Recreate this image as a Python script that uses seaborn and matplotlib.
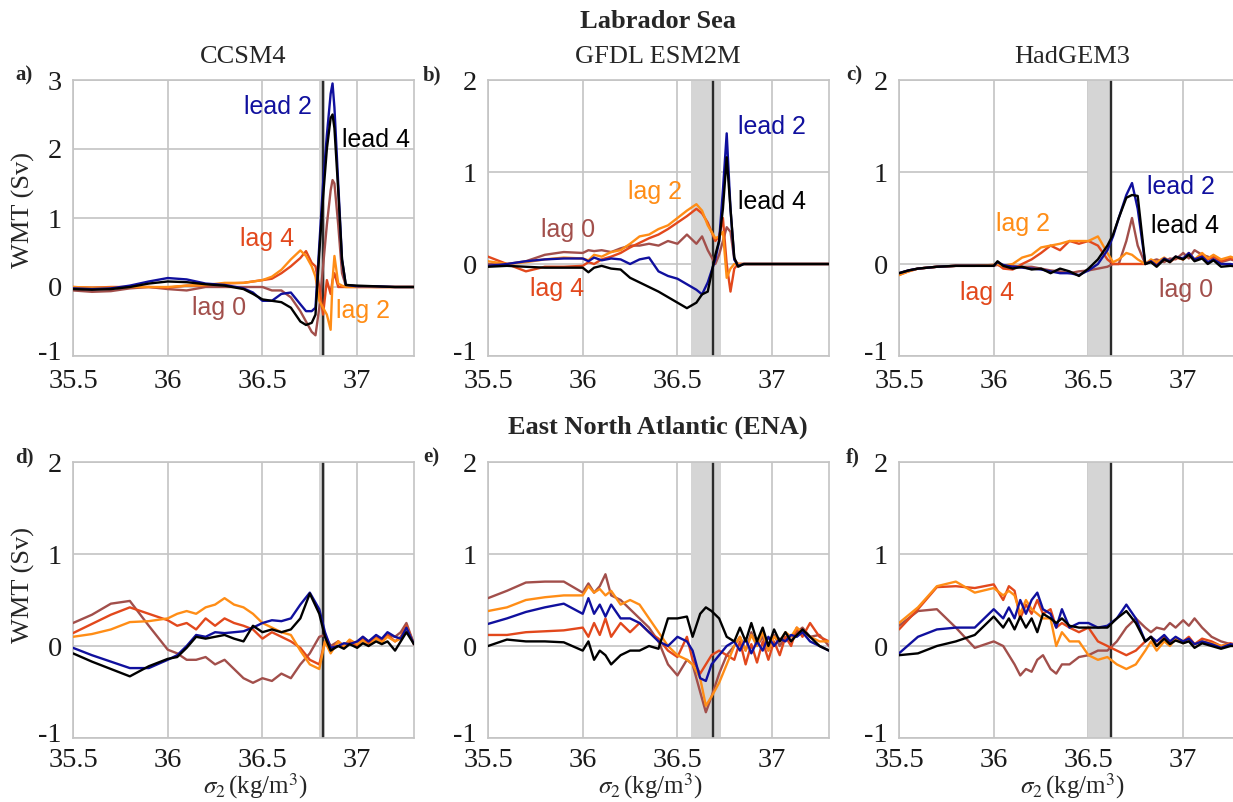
import pandas as pd
import seaborn as sns
import matplotlib
matplotlib.use('Agg')
from matplotlib import pyplot as plt
from matplotlib.transforms import ScaledTranslation

# ---------------- DATOS ----------------
# a) Labrador Sea - CCSM4
x_a = [35.5, 35.6, 35.7, 35.8, 35.9, 36.0, 36.1, 36.2, 36.3, 36.4,
       36.45, 36.5, 36.55, 36.6, 36.65, 36.7, 36.73, 36.76, 36.78, 36.8,
       36.82, 36.84, 36.86, 36.87, 36.88, 36.9, 36.92, 36.94, 37.0, 37.1,
       37.2, 37.3]
a_lead2 = [-0.02, -0.03, -0.02, 0.02, 0.08, 0.13, 0.11, 0.05, 0.03, -0.02,
           -0.08, -0.2, -0.2, -0.1, -0.08, -0.25, -0.35, -0.35, -0.3, 0.6,
           1.5, 2.2, 2.8, 2.95, 2.6, 1.5, 0.4, 0.03, 0.01, 0.01,
           0.0, 0.0]
a_lead4 = [-0.03, -0.04, -0.03, 0.0, 0.05, 0.08, 0.07, 0.04, 0.02, -0.03,
           -0.1, -0.18, -0.2, -0.22, -0.3, -0.5, -0.55, -0.52, -0.4, 0.5,
           1.3, 2.0, 2.45, 2.5, 2.3, 1.4, 0.4, 0.03, 0.02, 0.01,
           0.0, 0.0]
a_lag0 = [-0.05, -0.07, -0.06, -0.02, 0.0, -0.03, -0.05, 0.0, 0.0, 0.0,
          0.0, 0.0, -0.05, -0.05, -0.15, -0.35, -0.5, -0.65, -0.7, -0.3,
          0.3, 0.9, 1.4, 1.55, 1.5, 0.9, 0.2, 0.02, 0.01, 0.0,
          0.0, 0.0]
a_lag2 = [0.0, -0.01, -0.01, 0.0, 0.0, 0.0, 0.02, 0.03, 0.06, 0.06,
          0.08, 0.1, 0.15, 0.25, 0.4, 0.53, 0.45, 0.3, 0.15, -0.2,
          -0.3, -0.4, -0.62, 0.1, 0.45, 0.05, 0.02, 0.0, 0.0, 0.0,
          0.0, 0.0]
a_lag4 = [0.0, -0.01, 0.0, 0.0, 0.0, -0.01, 0.02, 0.02, 0.05, 0.06,
          0.08, 0.1, 0.12, 0.2, 0.3, 0.42, 0.52, 0.35, 0.3, 0.0,
          -0.4, 0.1, -0.1, 0.1, 0.2, 0.0, 0.0, 0.0, 0.0, 0.0,
          0.0, 0.0]

# b) Labrador Sea - GFDL ESM2M
x_b = [35.5, 35.6, 35.7, 35.8, 35.9, 36.0, 36.03, 36.06, 36.1, 36.15,
       36.2, 36.25, 36.3, 36.35, 36.4, 36.45, 36.5, 36.55, 36.6, 36.63,
       36.66, 36.7, 36.72, 36.74, 36.76, 36.78, 36.8, 36.82, 36.85, 36.9,
       37.0, 37.3]
b_lead2 = [-0.02, 0.0, 0.03, 0.05, 0.06, 0.06, 0.03, 0.07, 0.04, 0.06,
           0.05, 0.0, 0.05, 0.07, -0.08, -0.13, -0.16, -0.22, -0.28, -0.33,
           -0.2, 0.05, 0.25, 0.8, 1.42, 0.6, 0.05, -0.02, 0.0, 0.0,
           0.0, 0.0]
b_lead4 = [-0.03, -0.02, -0.03, -0.04, -0.04, -0.04, -0.09, -0.04, -0.02, -0.05,
           -0.06, -0.15, -0.2, -0.25, -0.3, -0.36, -0.42, -0.48, -0.42, -0.33,
           -0.3, 0.1, 0.25, 0.6, 1.16, 0.6, 0.07, -0.03, 0.0, 0.0,
           0.0, 0.0]
b_lag0 = [0.0, 0.0, 0.03, 0.1, 0.13, 0.12, 0.15, 0.14, 0.15, 0.13,
          0.17, 0.2, 0.2, 0.22, 0.2, 0.25, 0.22, 0.32, 0.22, 0.3,
          0.15, 0.0, 0.1, 0.25, 0.4, 0.35, 0.05, 0.0, 0.0, 0.0,
          0.0, 0.0]
b_lag2 = [0.03, 0.0, 0.02, 0.05, 0.07, 0.06, 0.04, 0.1, 0.08, 0.13,
          0.15, 0.22, 0.3, 0.32, 0.38, 0.42, 0.5, 0.58, 0.65, 0.58,
          0.42, 0.28, 0.3, 0.35, -0.15, -0.05, 0.0, 0.0, 0.0, 0.0,
          0.0, 0.0]
b_lag4 = [0.08, 0.0, -0.08, -0.03, -0.03, -0.02, 0.02, 0.0, 0.05, 0.08,
          0.12, 0.18, 0.23, 0.28, 0.32, 0.38, 0.45, 0.52, 0.6, 0.55,
          0.45, 0.25, 0.3, 0.5, 0.0, -0.3, -0.05, 0.0, 0.0, 0.0,
          0.0, 0.0]

# c) Labrador Sea - HadGEM3
x_c = [35.5, 35.55, 35.6, 35.7, 35.8, 35.9, 36.0, 36.02, 36.05, 36.1,
       36.15, 36.2, 36.25, 36.3, 36.35, 36.4, 36.45, 36.5, 36.55, 36.6,
       36.63, 36.66, 36.7, 36.73, 36.76, 36.8, 36.83, 36.86, 36.9, 36.93,
       36.96, 37.0, 37.03, 37.06, 37.1, 37.13, 37.16, 37.2, 37.25, 37.3]
c_lead2 = [-0.1, -0.07, -0.05, -0.03, -0.02, -0.02, -0.02, 0.02, -0.01, -0.03,
           -0.04, -0.05, -0.06, -0.08, -0.1, -0.1, -0.12, -0.07, 0.0, 0.15,
           0.3, 0.5, 0.75, 0.88, 0.6, 0.0, 0.03, -0.02, 0.06, 0.03,
           0.08, 0.06, 0.12, 0.05, 0.08, 0.02, 0.05, 0.0, 0.0, -0.02]
c_lead4 = [-0.1, -0.07, -0.05, -0.03, -0.02, -0.02, -0.02, 0.03, -0.02, -0.05,
           -0.03, -0.06, -0.05, -0.1, -0.05, -0.08, -0.13, -0.05, 0.05, 0.2,
           0.32, 0.5, 0.72, 0.75, 0.74, 0.0, 0.02, -0.03, 0.05, 0.02,
           0.08, 0.05, 0.1, 0.03, 0.06, 0.0, 0.04, -0.03, -0.02, -0.03]
c_lag0 = [-0.1, -0.07, -0.05, -0.03, -0.02, -0.02, -0.02, -0.01, -0.03, -0.02,
          -0.03, -0.03, -0.05, -0.07, -0.08, -0.1, -0.08, -0.07, -0.05, -0.03,
          0.0, 0.0, 0.25, 0.5, 0.2, 0.0, 0.03, 0.05, 0.02, 0.06,
          0.05, 0.12, 0.06, 0.15, 0.1, 0.08, 0.05, 0.02, 0.05, 0.02]
c_lag2 = [-0.12, -0.08, -0.05, -0.03, -0.02, -0.02, -0.01, 0.0, -0.02, 0.0,
          0.07, 0.1, 0.18, 0.2, 0.22, 0.25, 0.25, 0.25, 0.3, 0.12,
          0.02, 0.05, 0.12, 0.1, 0.05, 0.0, 0.05, 0.02, 0.07, 0.03,
          0.08, 0.05, 0.1, 0.05, 0.12, 0.06, 0.1, 0.05, 0.08, 0.04]
c_lag4 = [-0.12, -0.08, -0.05, -0.03, -0.02, -0.02, -0.01, 0.0, -0.05, -0.06,
          0.0, 0.05, 0.12, 0.2, 0.15, 0.25, 0.22, 0.25, 0.2, 0.05,
          0.0, 0.0, 0.0, 0.0, 0.0, 0.0, 0.04, 0.0, 0.06, 0.02,
          0.07, 0.05, 0.12, 0.04, 0.1, 0.05, 0.08, 0.03, 0.06, 0.02]

# d) ENA - CCSM4
x_d = [35.5, 35.6, 35.7, 35.8, 35.9, 36.0, 36.05, 36.1, 36.15, 36.2,
       36.25, 36.3, 36.35, 36.4, 36.45, 36.5, 36.55, 36.6, 36.65, 36.7,
       36.75, 36.8, 36.83, 36.86, 36.9, 36.93, 36.96, 37.0, 37.03, 37.06,
       37.1, 37.13, 37.16, 37.2, 37.23, 37.26, 37.3]
d_lead2 = [-0.02, -0.1, -0.17, -0.24, -0.24, -0.15, -0.1, 0.0, 0.12, 0.1,
           0.15, 0.14, 0.15, 0.16, 0.2, 0.25, 0.28, 0.27, 0.3, 0.45,
           0.58, 0.4, 0.15, -0.02, 0.0, 0.03, 0.02, 0.05, 0.1, 0.05,
           0.12, 0.08, 0.15, 0.1, 0.08, 0.2, 0.02]
d_lead4 = [-0.08, -0.17, -0.25, -0.33, -0.22, -0.14, -0.12, -0.02, 0.1, 0.08,
           0.1, 0.12, 0.08, 0.05, 0.22, 0.15, 0.18, 0.15, 0.18, 0.3,
           0.57, 0.35, 0.1, -0.05, 0.0, -0.03, 0.02, -0.02, 0.03, 0.0,
           0.05, 0.02, 0.05, -0.05, 0.05, 0.15, 0.02]
d_lag0 = [0.25, 0.34, 0.46, 0.49, 0.22, -0.04, -0.08, -0.15, -0.15, -0.12,
          -0.2, -0.15, -0.25, -0.35, -0.4, -0.35, -0.38, -0.3, -0.35, -0.2,
          -0.08, 0.1, 0.12, 0.0, 0.05, 0.0, 0.06, 0.02, 0.1, 0.05,
          0.1, 0.05, 0.12, 0.1, 0.15, 0.25, 0.02]
d_lag2 = [0.1, 0.13, 0.18, 0.26, 0.27, 0.3, 0.35, 0.38, 0.35, 0.42,
          0.45, 0.52, 0.45, 0.42, 0.35, 0.25, 0.2, 0.15, 0.12, -0.05,
          -0.2, -0.25, 0.05, -0.08, 0.05, 0.0, 0.07, 0.02, 0.06, 0.0,
          0.08, 0.04, 0.1, 0.05, 0.08, 0.2, 0.02]
d_lag4 = [0.14, 0.24, 0.34, 0.42, 0.35, 0.28, 0.22, 0.25, 0.18, 0.3,
          0.22, 0.3, 0.25, 0.22, 0.18, 0.08, 0.15, 0.1, 0.05, -0.02,
          -0.15, -0.2, 0.05, -0.05, 0.05, -0.02, 0.05, 0.0, 0.08, 0.02,
          0.1, 0.05, 0.12, 0.05, 0.1, 0.22, 0.02]

# e) ENA - GFDL ESM2M
x_e = [35.5, 35.6, 35.7, 35.8, 35.9, 36.0, 36.03, 36.06, 36.09, 36.12,
       36.15, 36.2, 36.25, 36.3, 36.35, 36.4, 36.45, 36.5, 36.55, 36.58,
       36.62, 36.65, 36.68, 36.72, 36.76, 36.8, 36.83, 36.86, 36.89, 36.92,
       36.95, 36.98, 37.01, 37.04, 37.07, 37.1, 37.13, 37.16, 37.2, 37.25,
       37.3]
e_lead2 = [0.24, 0.3, 0.37, 0.42, 0.46, 0.35, 0.52, 0.35, 0.45, 0.32,
           0.45, 0.3, 0.3, 0.25, 0.15, 0.05, 0.0, 0.1, 0.05, -0.05,
           -0.35, -0.38, -0.2, -0.1, 0.0, 0.05, -0.05, 0.08, -0.08, 0.05,
           -0.05, 0.1, 0.0, 0.08, 0.05, 0.12, 0.1, 0.15, 0.05, 0.0,
           -0.05]
e_lead4 = [0.0, 0.07, 0.05, 0.05, 0.04, -0.05, 0.05, -0.15, -0.05, -0.1,
           -0.2, -0.1, -0.05, -0.05, 0.0, -0.03, 0.3, 0.3, 0.32, 0.1,
           0.35, 0.42, 0.38, 0.3, 0.1, 0.05, 0.2, 0.05, 0.25, 0.05,
           0.2, 0.0, 0.18, 0.05, 0.15, 0.05, 0.12, 0.18, 0.1, 0.0,
           -0.05]
e_lag0 = [0.52, 0.6, 0.69, 0.7, 0.7, 0.58, 0.68, 0.58, 0.65, 0.78,
          0.55, 0.5, 0.4, 0.3, 0.2, 0.05, -0.2, -0.32, -0.15, -0.2,
          -0.5, -0.72, -0.55, -0.3, -0.1, 0.0, 0.1, -0.05, 0.15, 0.0,
          0.1, -0.05, 0.12, 0.0, 0.1, 0.05, 0.15, 0.2, 0.1, 0.12,
          0.0]
e_lag2 = [0.38, 0.42, 0.5, 0.53, 0.55, 0.55, 0.65, 0.58, 0.62, 0.55,
          0.6, 0.45, 0.5, 0.45, 0.3, 0.15, 0.0, -0.1, -0.15, -0.2,
          -0.35, -0.65, -0.55, -0.4, -0.2, 0.0, 0.1, -0.05, 0.12, 0.0,
          0.15, -0.05, 0.1, 0.05, 0.15, 0.1, 0.2, 0.15, 0.1, 0.05,
          0.05]
e_lag4 = [0.12, 0.12, 0.15, 0.16, 0.17, 0.2, 0.1, 0.25, 0.12, 0.3,
          0.1, 0.25, 0.15, 0.25, 0.15, 0.08, -0.05, -0.12, 0.1, -0.15,
          -0.3, -0.2, -0.1, -0.05, -0.1, -0.15, 0.05, -0.2, 0.02, -0.18,
          0.05, -0.15, 0.05, -0.1, 0.1, 0.0, 0.2, 0.1, 0.25, 0.1,
          0.05]

# f) ENA - HadGEM3
x_f = [35.5, 35.6, 35.7, 35.8, 35.9, 36.0, 36.05, 36.08, 36.11, 36.14,
       36.17, 36.2, 36.23, 36.26, 36.3, 36.33, 36.36, 36.4, 36.45, 36.5,
       36.55, 36.6, 36.65, 36.7, 36.75, 36.8, 36.83, 36.86, 36.9, 36.93,
       36.96, 37.0, 37.03, 37.06, 37.1, 37.15, 37.2, 37.25, 37.3]
f_lead2 = [-0.08, 0.1, 0.18, 0.2, 0.2, 0.4, 0.3, 0.42, 0.3, 0.5,
           0.35, 0.5, 0.58, 0.4, 0.35, 0.2, 0.4, 0.2, 0.25, 0.25,
           0.2, 0.22, 0.3, 0.45, 0.3, 0.05, 0.1, 0.05, 0.12, 0.05,
           0.1, 0.05, 0.08, 0.02, 0.05, 0.02, -0.02, 0.02, 0.0]
f_lead4 = [-0.1, -0.08, 0.0, 0.05, 0.12, 0.32, 0.2, 0.3, 0.18, 0.32,
           0.2, 0.3, 0.15, 0.35, 0.3, 0.25, 0.3, 0.22, 0.2, 0.2,
           0.2, 0.2, 0.3, 0.38, 0.25, 0.05, 0.1, 0.0, 0.08, 0.02,
           0.06, 0.03, 0.05, -0.02, 0.03, 0.0, -0.03, 0.0, 0.0]
f_lag0 = [0.22, 0.38, 0.4, 0.2, -0.02, 0.05, 0.0, -0.1, -0.2, -0.32,
          -0.25, -0.28, -0.15, -0.1, -0.25, -0.3, -0.2, -0.2, -0.12, -0.1,
          -0.05, -0.05, 0.05, 0.2, 0.3, 0.2, 0.15, 0.2, 0.18, 0.25,
          0.2, 0.28, 0.22, 0.3, 0.2, 0.1, 0.05, 0.02, 0.0]
f_lag2 = [0.25, 0.42, 0.65, 0.7, 0.58, 0.63, 0.55, 0.6, 0.55, 0.35,
          0.5, 0.4, 0.35, 0.3, 0.3, 0.0, 0.15, 0.05, 0.05, -0.1,
          -0.15, -0.12, -0.2, -0.25, -0.2, -0.05, 0.05, -0.05, 0.05, 0.0,
          0.08, 0.03, 0.06, 0.02, 0.05, 0.03, 0.0, 0.02, 0.0]
f_lag4 = [0.18, 0.4, 0.64, 0.65, 0.63, 0.67, 0.5, 0.65, 0.6, 0.3,
          0.45, 0.35, 0.5, 0.35, 0.4, 0.2, 0.25, 0.2, 0.15, 0.2,
          0.05, 0.0, -0.05, -0.1, -0.05, 0.05, 0.1, 0.0, 0.1, 0.02,
          0.08, 0.05, 0.1, 0.02, 0.08, 0.05, 0.0, 0.03, 0.0]

series = ['lag 0', 'lag 4', 'lag 2', 'lead 2', 'lead 4']
cores = {'lag 0': '#a24f4b', 'lag 4': '#e2481c', 'lag 2': '#ff8d16',
         'lead 2': '#10109e', 'lead 4': '#000000'}

# paineis: x, dados, ylim, banda cinza, linha vertical
paineis = {
    'a': (x_a, {'lead 2': a_lead2, 'lead 4': a_lead4, 'lag 0': a_lag0, 'lag 2': a_lag2, 'lag 4': a_lag4},
          (-1, 3), (36.80, 36.83), 36.82),
    'b': (x_b, {'lead 2': b_lead2, 'lead 4': b_lead4, 'lag 0': b_lag0, 'lag 2': b_lag2, 'lag 4': b_lag4},
          (-1, 2), (36.57, 36.73), 36.69),
    'c': (x_c, {'lead 2': c_lead2, 'lead 4': c_lead4, 'lag 0': c_lag0, 'lag 2': c_lag2, 'lag 4': c_lag4},
          (-1, 2), (36.50, 36.62), 36.62),
    'd': (x_d, {'lead 2': d_lead2, 'lead 4': d_lead4, 'lag 0': d_lag0, 'lag 2': d_lag2, 'lag 4': d_lag4},
          (-1, 2), (36.80, 36.83), 36.82),
    'e': (x_e, {'lead 2': e_lead2, 'lead 4': e_lead4, 'lag 0': e_lag0, 'lag 2': e_lag2, 'lag 4': e_lag4},
          (-1, 2), (36.57, 36.73), 36.69),
    'f': (x_f, {'lead 2': f_lead2, 'lead 4': f_lead4, 'lag 0': f_lag0, 'lag 2': f_lag2, 'lag 4': f_lag4},
          (-1, 2), (36.50, 36.62), 36.62),
}

# rotulos das curvas (so na linha de cima)
rotulos = {
    'a': [('lead 2', 36.40, 2.61), ('lead 4', 36.92, 2.13), ('lag 4', 36.38, 0.69),
          ('lag 0', 36.13, -0.30), ('lag 2', 36.89, -0.35)],
    'b': [('lead 2', 36.82, 1.49), ('lead 4', 36.82, 0.67), ('lag 2', 36.24, 0.78),
          ('lag 0', 35.78, 0.37), ('lag 4', 35.72, -0.27)],
    'c': [('lead 2', 36.81, 0.84), ('lead 4', 36.83, 0.41), ('lag 2', 36.01, 0.44),
          ('lag 4', 35.82, -0.31), ('lag 0', 36.87, -0.28)],
}

# ---------------- FIGURA ----------------
sns.set_theme(style='whitegrid')
plt.rcParams['font.family'] = ['Liberation Serif', 'DejaVu Serif']
plt.rcParams['mathtext.fontset'] = 'stix'
plt.rcParams['axes.unicode_minus'] = False

W_px, H_px = 1233, 802
fig = plt.figure(figsize=(W_px / 100, H_px / 100), dpi=100)

esquerdas = {'a': 73, 'b': 488, 'c': 899, 'd': 73, 'e': 488, 'f': 899}
topos = {'a': 80, 'b': 80, 'c': 80, 'd': 462, 'e': 462, 'f': 462}
largura, altura = 341, 276

for letra, (xs, dados, ylim, banda, xv) in paineis.items():
    l = esquerdas[letra] / W_px
    b = 1 - (topos[letra] + altura) / H_px
    ax = fig.add_axes([l, b, largura / W_px, altura / H_px])

    df = pd.concat([pd.DataFrame({'sigma': xs, 'wmt': dados[s], 'serie': s}) for s in series])
    ax.axvspan(banda[0], banda[1], color='#d5d5d5', lw=0, zorder=1)
    ax.axvline(xv, color='#2b2b2b', lw=1.7, zorder=1.5)
    sns.lineplot(data=df, x='sigma', y='wmt', hue='serie', hue_order=series, palette=cores,
                 estimator=None, sort=False, linewidth=1.7, legend=False, ax=ax, zorder=3)

    ax.set_xlim(35.5, 37.3)
    ax.set_ylim(*ylim)
    ax.set_xticks([35.5, 36, 36.5, 37])
    ax.set_xticklabels(['35.5', '36', '36.5', '37'])
    ax.set_yticks(range(ylim[0], ylim[1] + 1))
    ax.set_xlabel('')
    ax.set_ylabel('')
    ax.set_facecolor('white')
    ax.grid(True, color='#c4c4c4', lw=1.2)
    ax.set_axisbelow(True)
    for sp in ax.spines.values():
        sp.set_color('#c4c4c4')
        sp.set_linewidth(1.2)
    ax.tick_params(axis='both', length=0, labelsize=20.5, colors='#1a1a1a')
    ax.tick_params(axis='x', pad=9 if letra in 'abc' else 7)
    ax.tick_params(axis='y', pad=8)
    # o "-1" sobe um pouco para nao encostar no "35.5"
    ylab0 = ax.get_yticklabels()[0]
    ylab0.set_transform(ylab0.get_transform() + ScaledTranslation(0, 0.05, fig.dpi_scale_trans))

    for txt, tx, ty in rotulos.get(letra, []):
        ax.text(tx, ty, txt, color=cores[txt], fontsize=18, family='Liberation Sans',
                ha='left', va='center', zorder=5)

    # letra do painel
    lx = {'a': 24, 'b': 432, 'c': 854, 'd': 24, 'e': 431, 'f': 853}[letra]
    ly = topos[letra] - 5
    fig.text(lx / W_px, 1 - ly / H_px, letra + ')', fontsize=15, fontweight='bold',
             ha='center', va='center')

# titulos
def ftxt(x, y, s, **kw):
    kw.setdefault('va', 'center')
    fig.text(x / W_px, 1 - y / H_px, s, ha='center', **kw)

ftxt(658, 21, 'Labrador Sea', fontsize=19, fontweight='bold')
ftxt(243, 57, 'CCSM4', fontsize=19)
ftxt(658, 57, 'GFDL ESM2M', fontsize=19)
ftxt(1072, 57, 'HadGEM3', fontsize=19)
ftxt(658, 427, 'East North Atlantic (ENA)', fontsize=19, fontweight='bold')

ftxt(23, 210, 'WMT (Sv)', fontsize=19, rotation=90)
ftxt(23, 585, 'WMT (Sv)', fontsize=19, rotation=90)
for cx in [255, 650, 1072]:
    ftxt(cx, 801, r'$\sigma_2\,$(kg/m$^3$)', fontsize=18, va='bottom')

fig.savefig('out.png', dpi=100)
